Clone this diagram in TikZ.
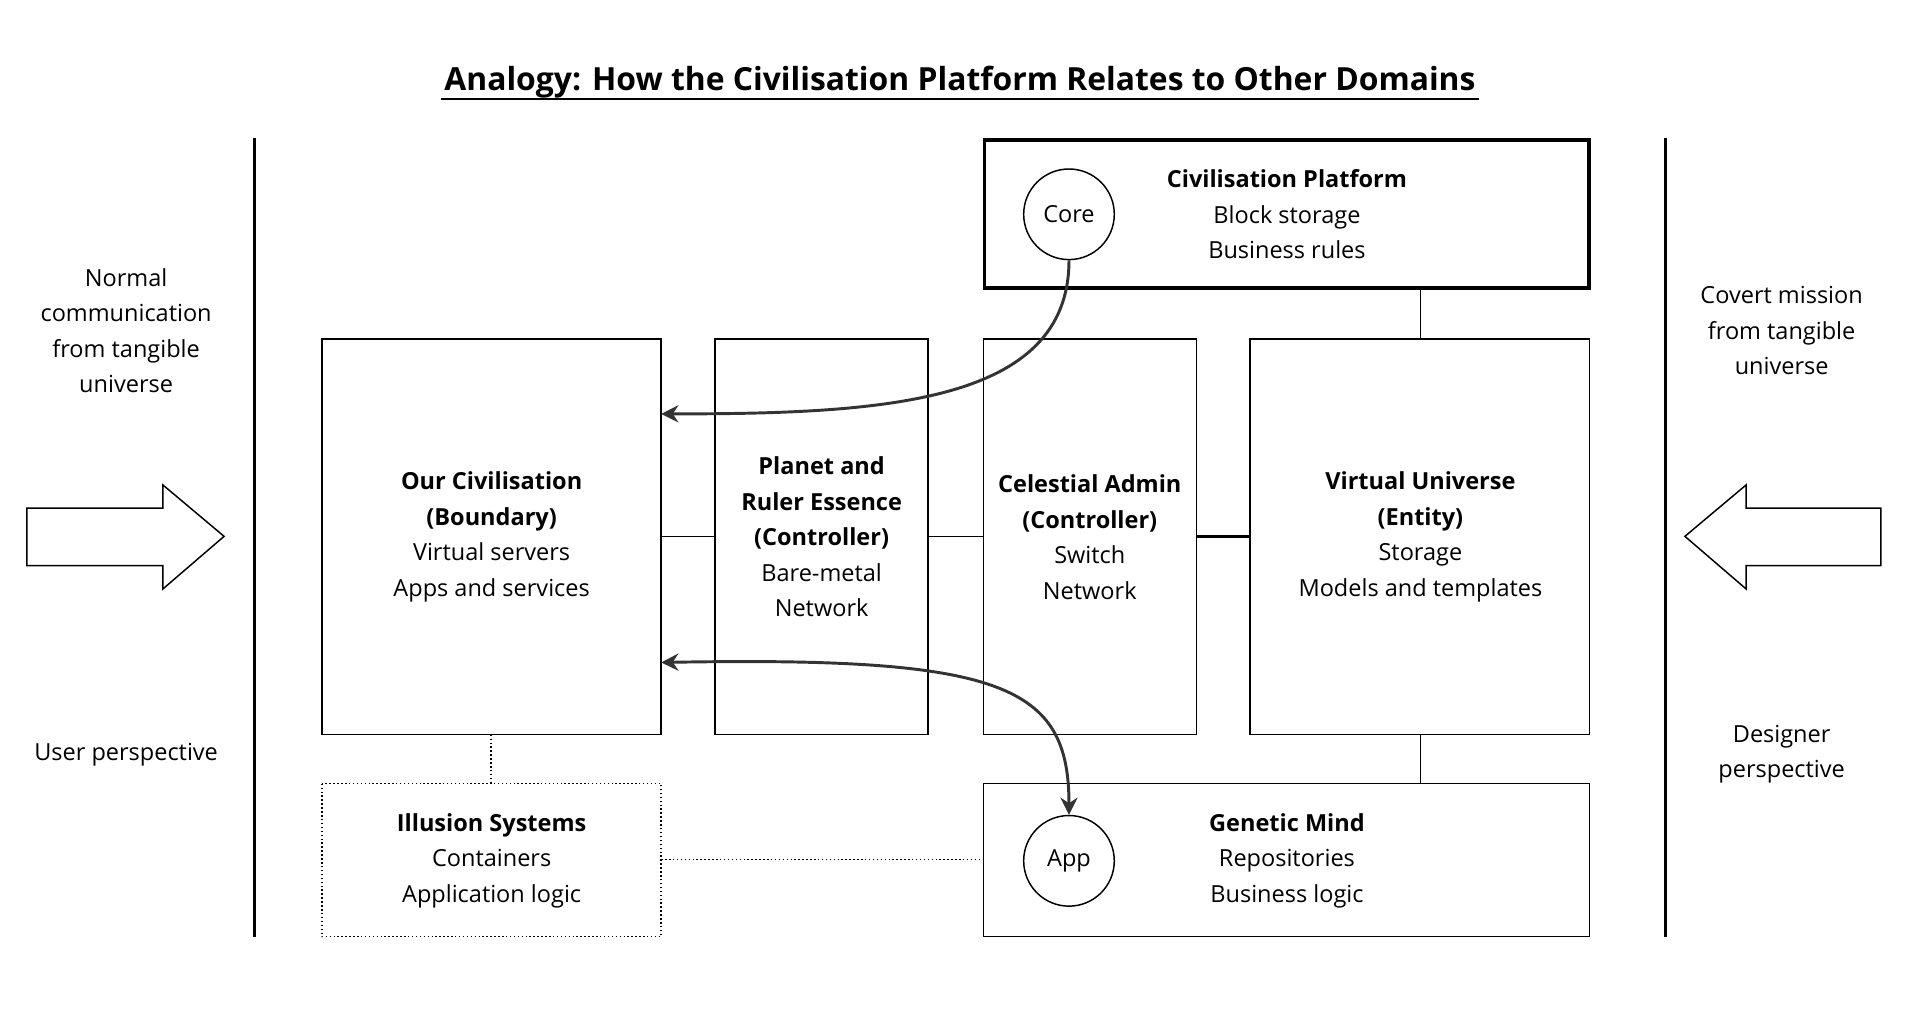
\documentclass[tikz,border=0pt]{standalone}
\usepackage{fontspec}
\setmainfont{Open Sans}
\usetikzlibrary{shapes.arrows,arrows.meta}
\begin{document}
\begin{tikzpicture}[x=0.5pt,y=-0.5pt,
 txt/.style={align=center,font=\fontsize{9.6}{14.5}\selectfont},
 circ/.style={draw,circle,line width=0.6pt,minimum size=37pt,inner sep=0pt,font=\fontsize{9.6}{14.5}\selectfont},
 link/.style={line width=0.6pt},
 curv/.style={line width=1.2pt,draw=black!80,-{Stealth[length=7pt,width=7pt]}},
 bigarrow/.style={draw,line width=0.6pt}]
\useasboundingbox (0,0) rectangle (1568,827);
\node[font=\fontsize{13}{15}\selectfont\bfseries] (title) at (784,67) {Analogy: How the Civilisation Platform Relates to Other Domains};
\draw[line width=0.8pt] (title.south west)++(4,-6) -- ([shift={(-4,-6)}]title.south east);
\draw[line width=1.2pt] (208,113) -- (208,765);
\draw[line width=1.2pt] (1360,113) -- (1360,765);
\node[txt] (lt) at (103,270) {Normal\\communication\\from tangible\\universe};
\node[txt] (lb) at (103,616) {User perspective};
\node[txt] (rt) at (1455,270) {Covert mission\\from tangible\\universe};
\node[txt] (rb) at (1455,616) {Designer\\perspective};
\draw[bigarrow] (22,415) -- (133,415) -- (133,396) -- (183,438) -- (133,481) -- (133,462) -- (22,462) -- cycle;
\draw[bigarrow] (1536,415) -- (1426,415) -- (1426,396) -- (1376,438) -- (1426,481) -- (1426,462) -- (1536,462) -- cycle;
\draw[line width=1.6pt] (804,114) rectangle (1298,235);
\node[txt] (platt) at (1051,175) {\textbf{Civilisation Platform}\\Block storage\\Business rules};
\node[circ] (core) at (873,175) {Core};
\draw[link] (263,277) rectangle (540,600);
\node[txt] (ourc) at (401.5,438.5) {\textbf{Our Civilisation}\\\textbf{(Boundary)}\\Virtual servers\\Apps and services};
\draw[link] (584,277) rectangle (758,600);
\node[txt] (planet) at (671,438.5) {\textbf{Planet and}\\\textbf{Ruler Essence}\\\textbf{(Controller)}\\Bare-metal\\Network};
\draw[link] (803,277) rectangle (977,600);
\node[txt] (cel) at (890,438.5) {\textbf{Celestial Admin}\\\textbf{(Controller)}\\Switch\\Network};
\draw[link] (1021,277) rectangle (1298,600);
\node[txt] (vu) at (1160,438.5) {\textbf{Virtual Universe}\\\textbf{(Entity)}\\Storage\\Models and templates};
\draw[link,densely dotted] (263,640) rectangle (540,765);
\node[txt] (ill) at (401.5,703) {\textbf{Illusion Systems}\\Containers\\Application logic};
\draw[link] (803,640) rectangle (1298,765);
\node[txt] (gm) at (1051,703) {\textbf{Genetic Mind}\\Repositories\\Business logic};
\node[circ] (app) at (873,703) {App};
\coordinate (a1) at (540,438); \coordinate (a2) at (584,438);
\coordinate (b1) at (758,438); \coordinate (b2) at (803,438);
\coordinate (c1) at (977,438); \coordinate (c2) at (1021,438);
\draw[link] (a1) -- (a2); \draw[link] (b1) -- (b2); \draw[line width=1.2pt] (c1) -- (c2);
\coordinate (d1) at (1160,235); \coordinate (d2) at (1160,277);
\coordinate (e1) at (1160,600); \coordinate (e2) at (1160,640);
\draw[link] (d1) -- (d2); \draw[link] (e1) -- (e2);
\coordinate (f1) at (401,600); \coordinate (f2) at (401,640);
\coordinate (g1) at (540,702); \coordinate (g2) at (803,702);
\draw[link,densely dotted] (f1) -- (f2); \draw[link,densely dotted] (g1) -- (g2);
\coordinate (h1) at (540,338); \coordinate (h2) at (540,541);
\draw[curv] (core.south) .. controls (873,330) and (720,338) .. (h1);
\draw[curv,{Stealth[length=7pt,width=7pt]}-{Stealth[length=7pt,width=7pt]}] (h2) .. controls (820,536) and (873,560) .. (app.north);
\end{tikzpicture}
\end{document}
